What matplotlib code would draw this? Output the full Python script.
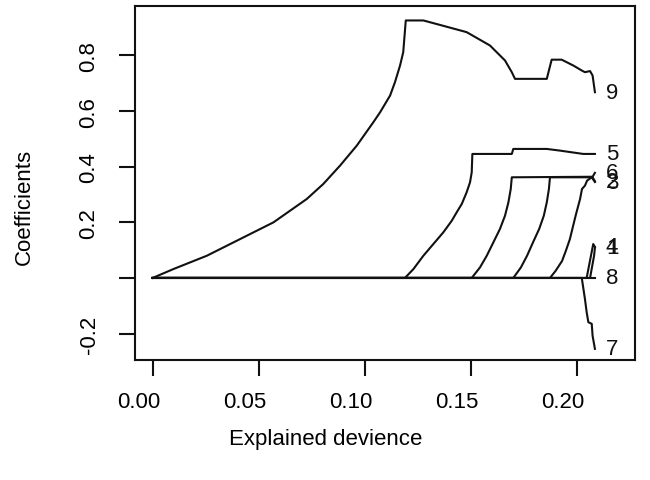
import matplotlib
matplotlib.use("Agg")
import matplotlib.pyplot as plt
from matplotlib.transforms import ScaledTranslation

plt.rcParams['font.family'] = ['Liberation Sans', 'DejaVu Sans']

# coefficient paths: (explained deviance, coefficient)
dev_v9 = [0.0, 0.0098, 0.0256, 0.0413, 0.0570, 0.0727, 0.0805, 0.0884, 0.0963,
          0.1041, 0.1073, 0.1120, 0.1143, 0.1167, 0.1182, 0.1194, 0.1277, 0.1355,
          0.1481, 0.1591, 0.1662, 0.1694, 0.1709, 0.1859, 0.1882, 0.1929, 0.1984,
          0.2024, 0.2039, 0.2063, 0.2075, 0.2086]
coef_v9 = [0.0, 0.032, 0.080, 0.140, 0.200, 0.284, 0.338, 0.404, 0.476,
           0.560, 0.596, 0.656, 0.704, 0.764, 0.812, 0.926, 0.926, 0.910,
           0.884, 0.836, 0.782, 0.740, 0.716, 0.716, 0.785, 0.785, 0.764,
           0.746, 0.740, 0.744, 0.728, 0.668]

dev_v5 = [0.0, 0.1190, 0.1230, 0.1277, 0.1324, 0.1371, 0.1411, 0.1434, 0.1458,
          0.1481, 0.1497, 0.1505, 0.1508, 0.1694, 0.1701, 0.1859, 0.1921,
          0.2031, 0.2086]
coef_v5 = [0.0, 0.0, 0.032, 0.080, 0.122, 0.164, 0.206, 0.236, 0.266,
           0.308, 0.344, 0.380, 0.446, 0.446, 0.464, 0.464, 0.458,
           0.446, 0.446]

dev_v6 = [0.0, 0.1505, 0.1544, 0.1576, 0.1607, 0.1638, 0.1662, 0.1678, 0.1689,
          0.1694, 0.2075, 0.2086]
coef_v6 = [0.0, 0.0, 0.038, 0.080, 0.128, 0.176, 0.224, 0.272, 0.320,
           0.362, 0.364, 0.378]

dev_v2 = [0.0, 0.1701, 0.1737, 0.1766, 0.1794, 0.1823, 0.1845, 0.1859, 0.1869,
          0.1874, 0.2075, 0.2086]
coef_v2 = [0.0, 0.0, 0.038, 0.080, 0.128, 0.176, 0.224, 0.272, 0.320,
           0.362, 0.362, 0.348]

dev_v3 = [0.0, 0.1874, 0.1900, 0.1931, 0.1950, 0.1968, 0.1984, 0.1997, 0.2016,
          0.2025, 0.2039, 0.2049, 0.2071, 0.2086]
coef_v3 = [0.0, 0.0, 0.025, 0.061, 0.100, 0.140, 0.190, 0.230, 0.284,
           0.320, 0.332, 0.350, 0.362, 0.345]

dev_v4 = [0.0, 0.2047, 0.2078, 0.2086]
coef_v4 = [0.0, 0.0, 0.122, 0.112]

dev_v1 = [0.0, 0.2063, 0.2082, 0.2086]
coef_v1 = [0.0, 0.0, 0.080, 0.108]

dev_v7 = [0.0, 0.2024, 0.2039, 0.2047, 0.2055, 0.2071, 0.2075, 0.2086]
coef_v7 = [0.0, 0.0, -0.076, -0.123, -0.159, -0.165, -0.208, -0.255]

dev_v8 = [0.0, 0.2086]
coef_v8 = [0.0, 0.0]

var_ids = [1, 2, 3, 4, 5, 6, 7, 8, 9]
paths = [(dev_v1, coef_v1), (dev_v2, coef_v2), (dev_v3, coef_v3),
         (dev_v4, coef_v4), (dev_v5, coef_v5), (dev_v6, coef_v6),
         (dev_v7, coef_v7), (dev_v8, coef_v8), (dev_v9, coef_v9)]

x_ticks = [0.00, 0.05, 0.10, 0.15, 0.20]
x_ticklabels = ["0.00", "0.05", "0.10", "0.15", "0.20"]
y_ticks = [-0.2, 0.0, 0.2, 0.4, 0.6, 0.8]
y_ticklabels = ["-0.2", "", "0.2", "0.4", "0.6", "0.8"]

W, H = 650, 481
fig = plt.figure(figsize=(W / 100, H / 100), dpi=100)
ax = fig.add_axes([135 / W, (H - 361) / H, 500 / W, 354 / H])

for vid, (xs, ys) in zip(var_ids, paths):
    ax.plot(xs, ys, color="#111111", lw=1.5, solid_joinstyle="round")
    ax.text(xs[-1] + 0.0052, ys[-1], str(vid), fontsize=16,
            ha="left", va="center", color="#111111")

ax.set_xlim(-0.0083, 0.2275)
ax.set_ylim(-0.295, 0.978)

ax.set_xticks(x_ticks)
ax.set_xticklabels(x_ticklabels, fontsize=16)
ax.set_yticks(y_ticks)
ax.set_yticklabels(y_ticklabels, fontsize=16, rotation=90, va="center")
ax.tick_params(axis="both", direction="out", length=11.5, width=1.5,
               color="#111111")
ax.tick_params(axis="x", pad=11)
ax.tick_params(axis="y", pad=14)

# tick labels sit a little left of their ticks in the original
shift = ScaledTranslation(-14 / 100, 0, fig.dpi_scale_trans)
for lab in ax.get_xticklabels():
    lab.set_transform(lab.get_transform() + shift)

for sp in ax.spines.values():
    sp.set_linewidth(1.5)
    sp.set_color("#111111")

fig.text(326 / W, 1 - 440 / H, "Explained devience", fontsize=16,
         ha="center", va="center")
fig.text(24 / W, 1 - 207 / H, "Coefficients", fontsize=16,
         ha="center", va="center", rotation=90)

fig.savefig("out.png", dpi=100)
